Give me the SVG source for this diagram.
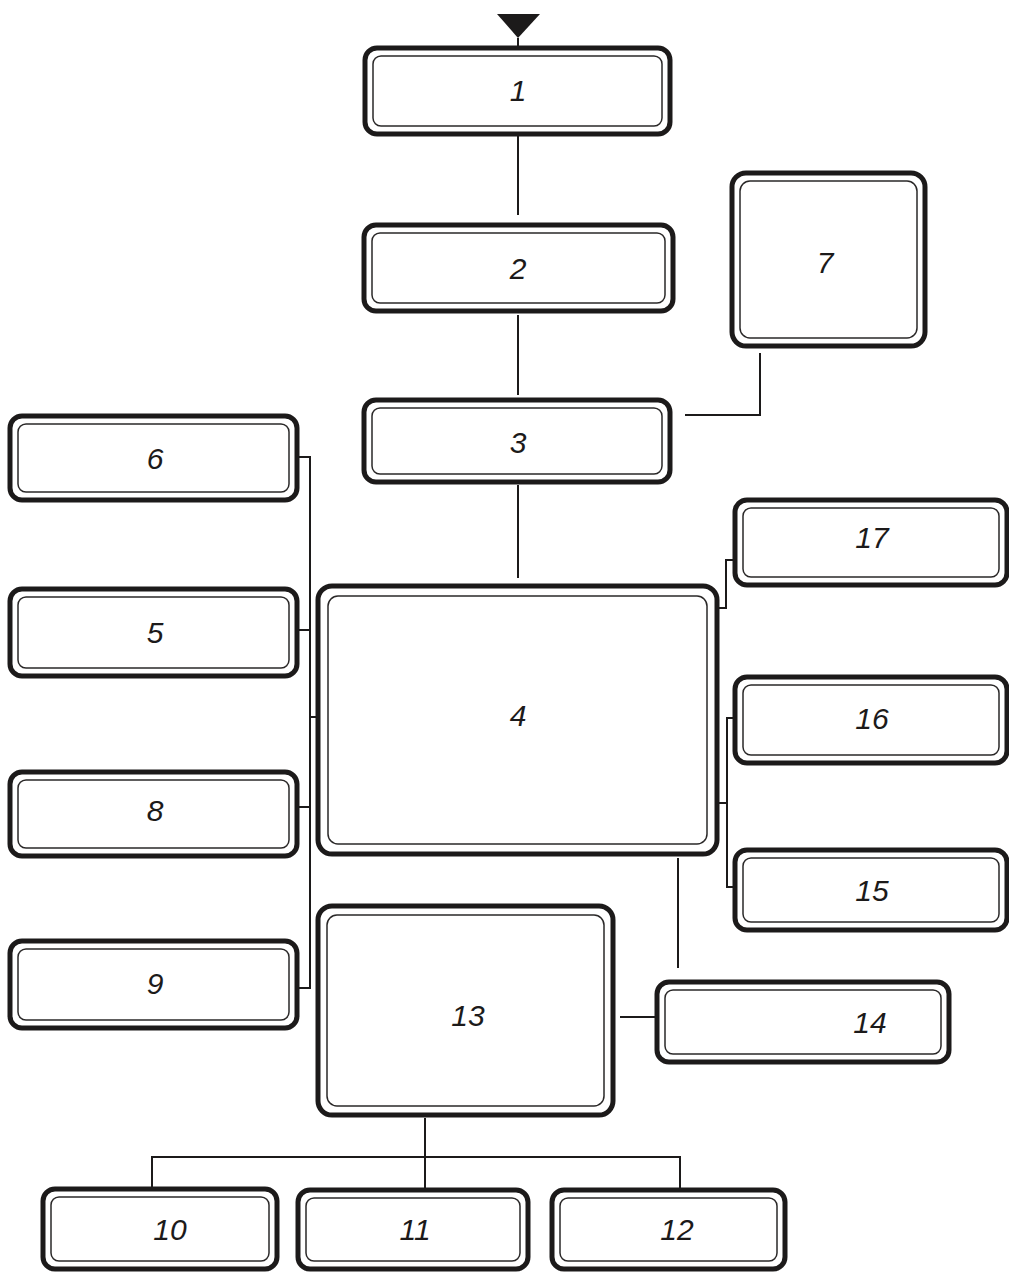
<svg xmlns="http://www.w3.org/2000/svg" width="1009" height="1275" viewBox="0 0 1009 1275">
<style>
.o{fill:#fff;stroke:#1c1a1a;stroke-width:5}
.i{fill:none;stroke:#2a2828;stroke-width:1.5}
.t{font-family:"Liberation Sans",Arial,sans-serif;font-style:italic;font-size:30px;fill:#1c1a1a;text-anchor:middle;dominant-baseline:central}
.c{fill:none;stroke:#1c1a1a;stroke-width:2}
</style>
<rect width="1009" height="1275" fill="#fff"/>
<g id="connectors">
<path class="c" d="M518,38 V48"/>
<path class="c" d="M518,135 V215"/>
<path class="c" d="M518,315 V395"/>
<path class="c" d="M685,415 H760 V353"/>
<path class="c" d="M518,485 V578"/>
<path class="c" d="M297,457 H310 V988 H297"/>
<path class="c" d="M297,630 H310"/>
<path class="c" d="M297,807 H310"/>
<path class="c" d="M310,717 H318"/>
<path class="c" d="M717,608 H726 V560 H735"/>
<path class="c" d="M717,803 H727"/>
<path class="c" d="M735,718 H727 V887 H735"/>
<path class="c" d="M678,858 V968"/>
<path class="c" d="M620,1017 H657" stroke-width="3"/>
<path class="c" d="M425,1118 V1157"/>
<path class="c" d="M152,1188 V1157 H680 V1190"/>
<path class="c" d="M425,1157 V1190"/>
<path d="M497,14 L540,14 L518,38 Z" fill="#1c1a1a"/>
</g>
<g id="n1"><rect class="o" x="365" y="48" width="305" height="86" rx="12"/><rect class="i" x="373" y="56" width="289" height="70" rx="8"/><text class="t" x="518" y="90">1</text></g>
<g id="n2"><rect class="o" x="364" y="225" width="309" height="86" rx="12"/><rect class="i" x="372" y="233" width="293" height="70" rx="8"/><text class="t" x="518" y="268">2</text></g>
<g id="n3"><rect class="o" x="364" y="400" width="306" height="82" rx="12"/><rect class="i" x="372" y="408" width="290" height="66" rx="8"/><text class="t" x="518" y="442">3</text></g>
<g id="n7"><rect class="o" x="732" y="173" width="193" height="173" rx="14"/><rect class="i" x="740" y="181" width="177" height="157" rx="10"/><text class="t" x="825" y="262">7</text></g>
<g id="n6"><rect class="o" x="10" y="416" width="287" height="84" rx="12"/><rect class="i" x="18" y="424" width="271" height="68" rx="8"/><text class="t" x="155" y="458">6</text></g>
<g id="n5"><rect class="o" x="10" y="589" width="287" height="87" rx="12"/><rect class="i" x="18" y="597" width="271" height="71" rx="8"/><text class="t" x="155" y="632">5</text></g>
<g id="n8"><rect class="o" x="10" y="772" width="287" height="84" rx="12"/><rect class="i" x="18" y="780" width="271" height="68" rx="8"/><text class="t" x="155" y="810">8</text></g>
<g id="n9"><rect class="o" x="10" y="941" width="287" height="87" rx="12"/><rect class="i" x="18" y="949" width="271" height="71" rx="8"/><text class="t" x="155" y="983">9</text></g>
<g id="n4"><rect class="o" x="318" y="586" width="399" height="268" rx="14"/><rect class="i" x="328" y="596" width="379" height="248" rx="10"/><text class="t" x="518" y="715">4</text></g>
<g id="n17"><rect class="o" x="735" y="500" width="272" height="85" rx="12"/><rect class="i" x="743" y="508" width="256" height="69" rx="8"/><text class="t" x="872" y="537">17</text></g>
<g id="n16"><rect class="o" x="735" y="677" width="272" height="86" rx="12"/><rect class="i" x="743" y="685" width="256" height="70" rx="8"/><text class="t" x="872" y="718">16</text></g>
<g id="n15"><rect class="o" x="735" y="850" width="272" height="80" rx="12"/><rect class="i" x="743" y="858" width="256" height="64" rx="8"/><text class="t" x="872" y="890">15</text></g>
<g id="n13"><rect class="o" x="318" y="906" width="295" height="209" rx="14"/><rect class="i" x="327" y="915" width="277" height="191" rx="10"/><text class="t" x="468" y="1015">13</text></g>
<g id="n14"><rect class="o" x="657" y="982" width="292" height="80" rx="12"/><rect class="i" x="665" y="990" width="276" height="64" rx="8"/><text class="t" x="870" y="1022">14</text></g>
<g id="n10"><rect class="o" x="43" y="1189" width="234" height="80" rx="12"/><rect class="i" x="51" y="1197" width="218" height="64" rx="8"/><text class="t" x="170" y="1229">10</text></g>
<g id="n11"><rect class="o" x="298" y="1190" width="230" height="79" rx="12"/><rect class="i" x="306" y="1198" width="214" height="63" rx="8"/><text class="t" x="415" y="1229">11</text></g>
<g id="n12"><rect class="o" x="552" y="1190" width="233" height="79" rx="12"/><rect class="i" x="560" y="1198" width="217" height="63" rx="8"/><text class="t" x="677" y="1229">12</text></g>
</svg>
